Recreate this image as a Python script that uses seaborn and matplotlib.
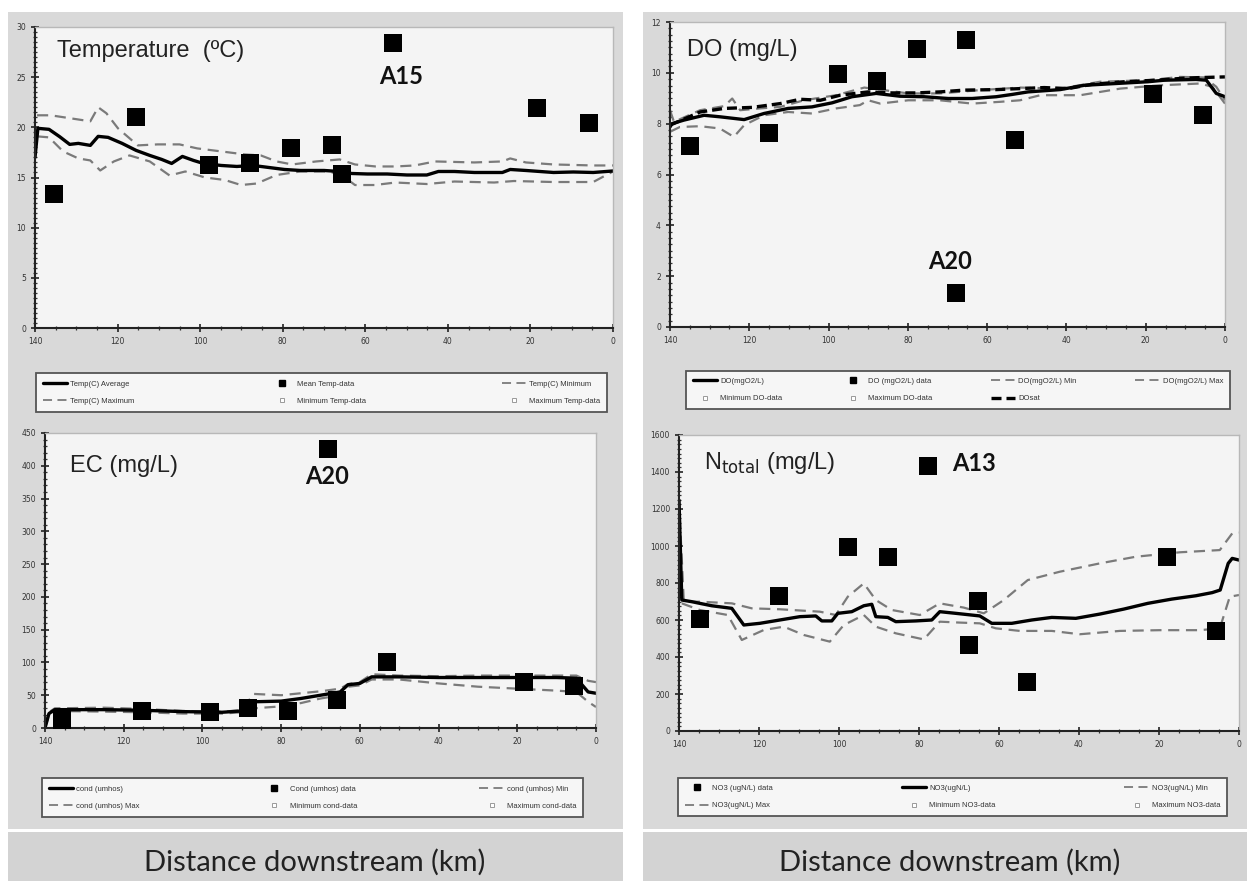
import matplotlib
matplotlib.use("Agg")
import matplotlib.pyplot as plt
from matplotlib.lines import Line2D
from matplotlib.patches import Rectangle
from matplotlib.ticker import MultipleLocator
import seaborn as sns

# ---- Temperature ----
temp_data_km = [135.4, 115.6, 97.8, 88.0, 78.1, 68.0, 65.6, 53.2, 18.3, 5.8]
temp_data = [13.4, 21.0, 16.2, 16.4, 17.9, 18.2, 15.3, 28.4, 21.9, 20.45]
temp_avg_km = [140, 139.3, 136.6, 134, 131.6, 129.5, 126.6, 124.7, 122.3, 118.9, 115.5, 112.2, 109.3,
               106.9, 104.3, 101.6, 99.2, 94.9, 91.1, 87.2, 83.4, 79.6, 75.7, 70.0, 66.2, 63.3, 59.5,
               54.7, 49.9, 45.1, 42.3, 38.4, 33.6, 26.8, 24.9, 21.1, 14.4, 9.6, 4.8, 0]
temp_avg = [17.0, 19.9, 19.8, 19.06, 18.3, 18.4, 18.2, 19.1, 19.0, 18.4, 17.7, 17.2, 16.8,
            16.4, 17.1, 16.7, 16.4, 16.2, 16.1, 16.2, 16.0, 15.8, 15.7, 15.7, 15.6, 15.4, 15.35,
            15.35, 15.25, 15.25, 15.6, 15.6, 15.5, 15.5, 15.8, 15.7, 15.5, 15.55, 15.5, 15.65]
temp_max_km = [139.5, 136.2, 126.6, 124.7, 122.7, 119.9, 115.1, 110.3, 105, 100.7, 94.9, 89.2, 85.3,
               81.5, 77.7, 71.9, 66.2, 62.5, 57.5, 52.7, 48, 43.1, 33.6, 26.8, 24.9, 21.1, 14.4, 4.8, 0]
temp_max = [21.2, 21.2, 20.6, 22.0, 21.4, 19.9, 18.2, 18.3, 18.3, 17.9, 17.6, 17.3, 17.2,
            16.6, 16.3, 16.6, 16.8, 16.3, 16.1, 16.1, 16.2, 16.6, 16.5, 16.6, 16.9, 16.5, 16.3, 16.2, 16.2]
temp_min_km = [139.5, 136.6, 133.2, 129.5, 126.6, 124.2, 120.9, 117.1, 112.2, 107.4, 103.6, 98.8, 94,
               90.1, 86.3, 81.5, 75.7, 70.0, 66.2, 62.5, 57.7, 52.7, 45.1, 38.4, 28.8, 24, 14.4, 4.8, 0]
temp_min = [19.1, 19.0, 17.6, 16.9, 16.7, 15.7, 16.6, 17.2, 16.6, 15.2, 15.6, 15.0, 14.75,
            14.25, 14.4, 15.25, 15.6, 15.6, 15.4, 14.25, 14.25, 14.5, 14.35, 14.6, 14.5, 14.65, 14.55, 14.55, 15.6]

# ---- Dissolved oxygen ----
do_data_km = [135, 115.1, 97.6, 87.9, 77.8, 67.8, 65.4, 52.9, 18.1, 5.55]
do_data = [7.13, 7.65, 9.95, 9.67, 10.92, 1.35, 11.31, 7.35, 9.16, 8.36]
do_avg_km = [140, 139.5, 136.5, 131.4, 127.4, 121.3, 116.3, 110.2, 104.2, 99.1, 94.1, 88, 82, 75.9,
             69.8, 63.8, 57.7, 53.7, 49.7, 41.6, 35.5, 27.5, 19.4, 15.3, 7.3, 4.7, 2.2, 0]
do_avg = [7.87, 8.0, 8.14, 8.33, 8.27, 8.16, 8.4, 8.6, 8.66, 8.82, 9.06, 9.19, 9.08, 9.06,
          8.99, 8.99, 9.06, 9.15, 9.25, 9.34, 9.51, 9.58, 9.65, 9.71, 9.74, 9.71, 9.19, 9.06]
do_max_km = [140, 139, 132.4, 126.3, 124.3, 122.3, 117.3, 112.2, 106.2, 98.1, 91, 86, 79.9, 71.9,
             61.8, 51.7, 41.6, 31.5, 19.4, 11.3, 5.2, 2.2, 0]
do_max = [8.53, 8.07, 8.53, 8.69, 8.99, 8.53, 8.6, 8.66, 8.92, 9.12, 9.42, 9.32, 9.19, 9.19,
          9.32, 9.42, 9.38, 9.65, 9.71, 9.84, 9.82, 9.45, 8.92]
do_min_km = [140, 137.5, 132.4, 127.4, 123.9, 121.3, 116.3, 110.2, 104.2, 98.1, 92.1, 90, 87, 79.9,
             71.9, 63.8, 56.7, 51.7, 46.6, 36.5, 26.4, 16.4, 6.3, 3.2, 0]
do_min = [7.68, 7.87, 7.9, 7.81, 7.48, 7.94, 8.33, 8.46, 8.4, 8.6, 8.73, 8.92, 8.79, 8.92,
          8.92, 8.79, 8.86, 8.92, 9.12, 9.12, 9.38, 9.51, 9.58, 9.45, 8.79]
do_sat_km = [140, 132.4, 126.3, 119.3, 112.2, 107.2, 102.1, 97.1, 90, 84, 77.9, 71.9, 65.8, 57.7,
             51.7, 45.6, 39.6, 33.5, 25.4, 17.4, 9.3, 0]
do_sat = [7.94, 8.46, 8.6, 8.64, 8.79, 8.96, 8.92, 9.12, 9.25, 9.21, 9.21, 9.25, 9.32, 9.34,
          9.38, 9.42, 9.38, 9.55, 9.65, 9.71, 9.8, 9.84]

# ---- Electrical conductivity ----
ec_data_km = [135.6, 115.4, 98.2, 88.4, 78.3, 68.2, 65.8, 53.1, 18.2, 5.6]
ec_data = [12.7, 25.4, 23.9, 30.5, 26.4, 425.5, 43.2, 100.2, 69.6, 63.5]
ec_km = [140, 139, 137.5, 125, 115, 105, 95, 90, 87, 80, 75, 70, 65, 63, 60, 57, 50, 40, 30, 20, 10, 5, 2, 0]
ec_avg = [0, 22, 28, 28, 27, 25, 24, 26, 40, 41, 45, 50, 55, 66, 68, 78, 78, 77, 77, 77, 77, 76, 55, 53]
ec_max = [0, 24, 30, 31, 29, 26, 25, 27, 52, 50, 53, 56, 60, 67, 70, 82, 80, 79, 80, 80, 80, 80, 72, 70]
ec_min = [0, 20, 26, 25, 24, 22, 22, 24, 30, 33, 38, 45, 50, 63, 65, 74, 74, 68, 63, 60, 57, 55, 40, 32]

# ---- Total nitrogen ----
n_data_km = [134.8, 115.0, 97.7, 87.7, 77.8, 67.5, 65.3, 52.9, 17.9, 5.7]
n_data = [604, 730, 995, 940, 1434, 463, 703, 263, 942, 539]
n_avg_km = [140, 139.3, 136.8, 134.8, 131.8, 126.8, 123.8, 119.8, 114.8, 109.8, 105.8, 104.3, 101.8,
            100.3, 96.8, 93.8, 91.8, 90.8, 87.8, 85.8, 80.8, 76.8, 74.8, 70.8, 64.8, 61.8, 56.8,
            51.8, 46.8, 40.8, 34.8, 28.8, 22.8, 16.8, 10.8, 6.7, 4.7, 2.7, 1.7, 0]
n_avg = [1248, 708, 699, 690, 677, 663, 573, 582, 600, 618, 622, 595, 595,
         636, 645, 677, 685, 618, 614, 591, 595, 600, 645, 636, 622, 582, 582,
         600, 614, 609, 632, 659, 690, 713, 731, 748, 762, 906, 933, 924]
n_max_km = [140, 138.8, 134.8, 126.8, 121.8, 114.8, 104.8, 100.8, 97.8, 93.8, 90.8, 86.8, 79.8,
            74.8, 68.8, 63.8, 58.8, 52.8, 44.8, 34.8, 25.8, 14.8, 4.8, 1.7, 0]
n_max = [1248, 699, 699, 690, 663, 658, 645, 627, 726, 798, 708, 654, 627,
         690, 667, 636, 708, 816, 861, 906, 942, 966, 978, 1068, 1072]
n_min_km = [139.3, 134.8, 127.8, 124.3, 118.8, 113.8, 108.8, 102.3, 98.8, 93.8, 90.8, 85.8, 78.8,
            74.8, 69.8, 64.8, 60.8, 54.8, 46.8, 39.8, 29.8, 19.8, 9.8, 4.8, 2.3, 0]
n_min = [690, 654, 627, 492, 546, 564, 519, 483, 573, 627, 564, 528, 495,
         591, 586, 582, 555, 541, 541, 523, 541, 545, 545, 555, 726, 735]

W, H = 1247, 881
PANEL = "#d9d9d9"
STRIP = "#d3d3d3"
PLOT_BG = "#f4f4f4"
DASH_C = "#7a7a7a"


def frac(x0, y0, x1, y1):
    return [x0 / W, 1 - y1 / H, (x1 - x0) / W, (y1 - y0) / H]


sns.set_style("white")
fig = plt.figure(figsize=(W / 100, H / 100), dpi=100, facecolor="white")

# gray background panels
for (x0, y0, x1, y1, c) in [(8, 12, 623, 829, PANEL), (643, 12, 1247, 829, PANEL),
                            (8, 832, 623, 881, STRIP), (643, 832, 1247, 881, STRIP)]:
    b = frac(x0, y0, x1, y1)
    fig.patches.append(Rectangle((b[0], b[1]), b[2], b[3], transform=fig.transFigure,
                                 facecolor=c, edgecolor="none", zorder=-10))


def style_axes(ax, ymax, ystep, yminor):
    ax.set_facecolor(PLOT_BG)
    ax.set_xlim(140, 0)
    ax.set_ylim(0, ymax)
    ax.xaxis.set_major_locator(MultipleLocator(20))
    ax.xaxis.set_minor_locator(MultipleLocator(5))
    ax.yaxis.set_major_locator(MultipleLocator(ystep))
    ax.yaxis.set_minor_locator(MultipleLocator(yminor))
    ax.tick_params(which="major", direction="inout", length=6, width=1.2, color="#222",
                   labelsize=5.5, labelcolor="#333", left=True, bottom=True)
    ax.tick_params(which="minor", direction="inout", length=3, width=0.9, color="#333",
                   left=True, bottom=True)
    for s in ["top", "right"]:
        ax.spines[s].set_color("#b8b8b8")
        ax.spines[s].set_linewidth(1.0)
    for s in ["left", "bottom"]:
        ax.spines[s].set_color("#222")
        ax.spines[s].set_linewidth(1.5)
    ax.set_xlabel("")
    ax.set_ylabel("")


def draw_lines(ax, km_avg, avg, km_min, vmin, km_max, vmax):
    sns.lineplot(x=km_min, y=vmin, ax=ax, color=DASH_C, lw=1.6, linestyle=(0, (5, 3)),
                 estimator=None, sort=False)
    sns.lineplot(x=km_max, y=vmax, ax=ax, color=DASH_C, lw=1.6, linestyle=(0, (5, 3)),
                 estimator=None, sort=False)
    sns.lineplot(x=km_avg, y=avg, ax=ax, color="black", lw=2.4, estimator=None, sort=False)


def draw_points(ax, km, vals):
    sns.scatterplot(x=km, y=vals, ax=ax, marker="s", s=160, color="black", edgecolor="black",
                    linewidth=0, zorder=5)


def h_line(lw=2.4, c="black", ls="-"):
    return Line2D([], [], color=c, lw=lw, linestyle=ls)


def h_dash():
    return Line2D([], [], color=DASH_C, lw=1.3, linestyle=(0, (5, 3)))


def h_mark(filled=True):
    if filled:
        return Line2D([], [], marker="s", ls="none", markersize=3.8, color="black")
    return Line2D([], [], marker="s", ls="none", markersize=3.2, mfc="white", mec="#999", mew=0.7)


def add_legend(ax, box, handles, labels, ncol):
    b = frac(*box)
    leg = ax.legend(handles, labels, loc="center", bbox_to_anchor=(b[0], b[1], b[2], b[3]),
                    bbox_transform=fig.transFigure, mode="expand", ncol=ncol,
                    frameon=True, fancybox=False, framealpha=1, borderpad=0.9,
                    handlelength=3.2, handletextpad=0.4, labelspacing=1.3, columnspacing=1.0,
                    prop={"family": "Liberation Sans", "size": 5.5})
    leg.get_frame().set_edgecolor("#555555")
    leg.get_frame().set_linewidth(1.3)
    leg.get_frame().set_facecolor("#f6f6f6")
    for t in leg.get_texts():
        t.set_color("#333")
    return leg


title_font = dict(family="Liberation Sans", size=17, color="#222")
tag_font = dict(family="Lato", size=17, weight="bold", color="#111")

# ---- Temperature panel ----
ax1 = fig.add_axes(frac(35, 27, 613, 328))
draw_lines(ax1, temp_avg_km, temp_avg, temp_min_km, temp_min, temp_max_km, temp_max)
draw_points(ax1, temp_data_km, temp_data)
style_axes(ax1, 30, 5, 0.5)
ax1.text(134.7, 27.6, "Temperature  (ºC)", ha="left", va="center", **title_font)
ax1.text(51.3, 25.1, "A15", ha="center", va="center", **tag_font)
add_legend(ax1, (32, 372, 611, 413),
           [h_line(), h_dash(), h_mark(), h_mark(False), h_dash(), h_mark(False)],
           ["Temp(C) Average", "Temp(C) Maximum", "Mean Temp-data", "Minimum Temp-data",
            "Temp(C) Minimum", "Maximum Temp-data"], 3)

# ---- DO panel ----
ax2 = fig.add_axes(frac(670, 22, 1225, 327))
draw_lines(ax2, do_avg_km, do_avg, do_min_km, do_min, do_max_km, do_max)
sns.lineplot(x=do_sat_km, y=do_sat, ax=ax2, color="black", lw=2.4, linestyle=(0, (3, 1.5)),
             estimator=None, sort=False)
draw_points(ax2, do_data_km, do_data)
style_axes(ax2, 12, 2, 0.25)
ax2.text(135.7, 10.9, "DO (mg/L)", ha="left", va="center", **title_font)
ax2.text(69.3, 2.56, "A20", ha="center", va="center", **tag_font)
add_legend(ax2, (682, 370, 1234, 410),
           [h_line(), h_mark(False), h_mark(), h_mark(False), h_dash(),
            h_line(ls=(0, (3, 1.5))), h_dash()],
           ["DO(mgO2/L)", "Minimum DO-data", "DO (mgO2/L) data", "Maximum DO-data",
            "DO(mgO2/L) Min", "DOsat", "DO(mgO2/L) Max"], 4)

# ---- EC panel ----
ax3 = fig.add_axes(frac(45, 433, 596, 728))
draw_lines(ax3, ec_km, ec_avg, ec_km, ec_min, ec_km, ec_max)
draw_points(ax3, ec_data_km, ec_data)
style_axes(ax3, 450, 50, 10)
ax3.text(133.7, 399, "EC (mg/L)", ha="left", va="center", **title_font)
ax3.text(68.3, 384, "A20", ha="center", va="center", **tag_font)
add_legend(ax3, (38, 778, 587, 817),
           [h_line(), h_dash(), h_mark(), h_mark(False), h_dash(), h_mark(False)],
           ["cond (umhos)", "cond (umhos) Max", "Cond (umhos) data", "Minimum cond-data",
            "cond (umhos) Min", "Maximum cond-data"], 3)

# ---- N total panel ----
ax4 = fig.add_axes(frac(679, 435, 1239, 731))
draw_lines(ax4, n_avg_km, n_avg, n_min_km, n_min, n_max_km, n_max)
draw_points(ax4, n_data_km, n_data)
style_axes(ax4, 1600, 200, 25)
ax4.text(133.8, 1447, r"N$_{\mathrm{total}}$ (mg/L)", ha="left", va="center", **title_font)
ax4.text(71.8, 1447, "A13", ha="left", va="center", **tag_font)
add_legend(ax4, (674, 777, 1231, 817),
           [h_mark(), h_dash(), h_line(), h_mark(False), h_dash(), h_mark(False)],
           ["NO3 (ugN/L) data", "NO3(ugN/L) Max", "NO3(ugN/L)", "Minimum NO3-data",
            "NO3(ugN/L) Min", "Maximum NO3-data"], 3)

# shared x-axis captions
for cx in [315, 950]:
    fig.text(cx / W, 1 - 862 / H, "Distance downstream (km)", ha="center", va="center",
             family="Lato", size=21, color="#222")

fig.savefig("out.png", dpi=100, facecolor="white")
